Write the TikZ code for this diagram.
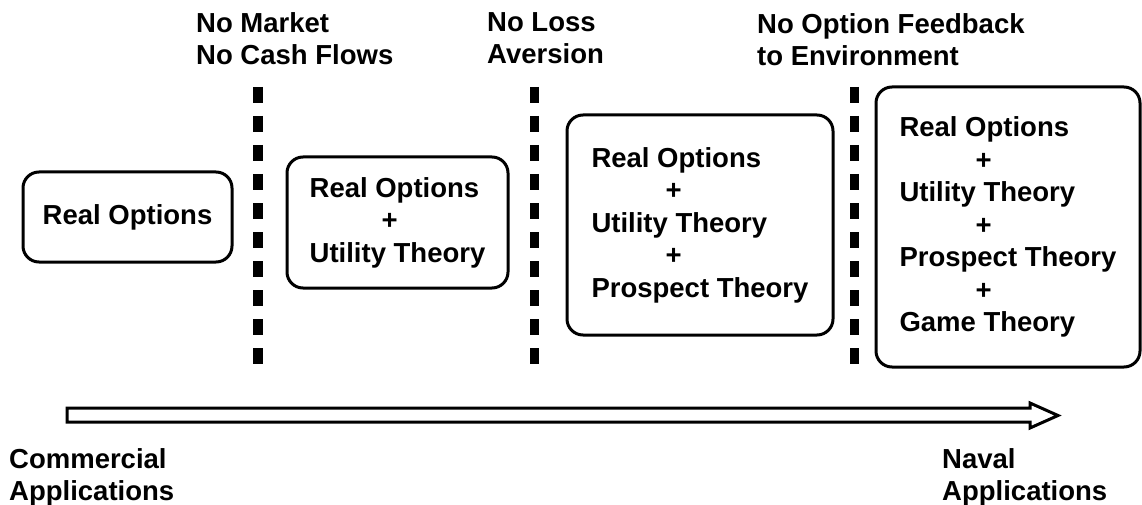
\documentclass[tikz,border=0pt]{standalone}
\usepackage{fontspec}
\setmainfont{Liberation Sans}

\begin{document}
\begin{tikzpicture}[x=1pt, y=-1pt,
    stagebox/.style={draw, line width=3pt, rounded corners=16pt, align=left, inner sep=0pt,
        font=\fontsize{27.5}{32.5}\selectfont\bfseries},
    caption/.style={anchor=north west, inner sep=0pt, align=left,
        font=\fontsize{27.5}{32.5}\selectfont\bfseries},
    barrier/.style={line width=9.5pt, dash pattern=on 16pt off 13pt},
    timeline/.style={line width=3pt, line join=miter}]

\useasboundingbox (0,0) rectangle (1142,505);

% stages
\node[stagebox, minimum width=209pt, minimum height=90pt]  (ro) at (127.5,217) {Real Options};
\node[stagebox, minimum width=221pt, minimum height=131pt] (ut) at (397.5,222.5) {Real Options\\ \hspace*{72pt}+\\ Utility Theory};
\node[stagebox, minimum width=266pt, minimum height=220pt] (pt) at (700,225) {Real Options\\ \hspace*{74pt}+\\ Utility Theory\\ \hspace*{74pt}+\\ Prospect Theory};
\node[stagebox, minimum width=264pt, minimum height=280pt] (gt) at (1008,227) {Real Options\\ \hspace*{76pt}+\\ Utility Theory\\ \hspace*{76pt}+\\ Prospect Theory\\ \hspace*{76pt}+\\ Game Theory};

% barriers
\coordinate (b1top) at (258,87);   \coordinate (b1bot) at (258,365);
\coordinate (b2top) at (534.5,87); \coordinate (b2bot) at (534.5,365);
\coordinate (b3top) at (854.5,87); \coordinate (b3bot) at (854.5,365);
\draw[barrier] (b1top) -- (b1bot);
\draw[barrier] (b2top) -- (b2bot);
\draw[barrier] (b3top) -- (b3bot);

\node[caption] (nomarket) at (196,12) {No Market\\No Cash Flows};
\node[caption] (noloss)   at (487,12) {No Loss\\Aversion};
\node[caption] (nofeed)   at (757,13) {No Option Feedback\\to Environment};

% timeline
\coordinate (tstart) at (67,415);
\draw[timeline] (tstart) ++(0,-7) -- ++(963,0) -- ++(0,-5) -- ++(28,12.5) -- ++(-28,12.5)
    -- ++(0,-6) -- ++(-963,0) -- cycle;

\node[caption] (commercial) at (9,448)  {Commercial\\Applications};
\node[caption] (naval)      at (942,448) {Naval\\Applications};

\end{tikzpicture}
\end{document}
